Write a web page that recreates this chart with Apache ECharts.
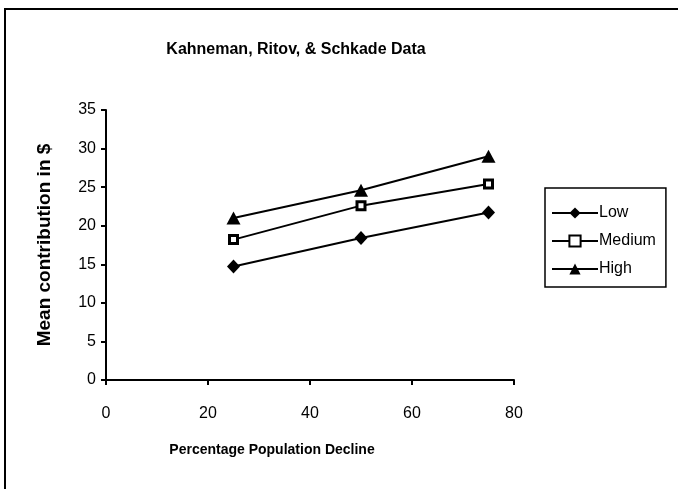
<!DOCTYPE html>
<html>
<head>
<meta charset="utf-8">
<script src="https://cdn.jsdelivr.net/npm/echarts@6/dist/echarts.min.js"></script>
<style>
  html, body { margin: 0; padding: 0; background: #fff; }
  #chart { width: 678px; height: 489px; }
</style>
</head>
<body>
<div id="chart"></div>
<script>
const xValues = [25, 50, 75];
const lowValues = [14.7, 18.4, 21.7];
const mediumValues = [18.2, 22.6, 25.4];
const highValues = [21.0, 24.6, 29.0];
const seriesNames = ["Low", "Medium", "High"];

const font = "'Liberation Sans', Arial, sans-serif";

function pairs(ys) {
  return xValues.map(function (x, i) { return [x, ys[i]]; });
}

const chart = echarts.init(document.getElementById("chart"));
chart.setOption({
  animation: false,
  backgroundColor: "#fff",
  title: {
    text: "Kahneman, Ritov, & Schkade Data",
    left: 291,
    top: 37,
    textAlign: "center",
    textStyle: { fontFamily: font, fontSize: 16, fontWeight: "bold", color: "#000" }
  },
  graphic: [{
    type: "polyline",
    shape: { points: [[5, 489], [5, 9], [678, 9]] },
    style: { fill: "none", stroke: "#000", lineWidth: 2 },
    silent: true
  }],
  legend: {
    orient: "vertical",
    left: 545,
    top: 188,
    padding: [17, 10, 10, 6],
    itemGap: 12,
    itemWidth: 46,
    itemHeight: 14,
    borderColor: "#000",
    borderWidth: 1.5,
    borderRadius: 0,
    data: seriesNames,
    textStyle: { fontFamily: font, fontSize: 16, color: "#000", padding: [0, 0, 0, -4] }
  },
  grid: { left: 106, right: 164, top: 110, bottom: 109 },
  xAxis: {
    type: "value",
    min: 0,
    max: 80,
    interval: 20,
    name: "Percentage Population Decline",
    nameLocation: "middle",
    nameGap: 63,
    nameTextStyle: { fontFamily: font, fontSize: 14, fontWeight: "bold", color: "#000", padding: [0, 76, 0, 0] },
    axisLine: { lineStyle: { color: "#000", width: 2 } },
    axisTick: { show: true, length: 5, inside: false, lineStyle: { color: "#000", width: 2 } },
    axisLabel: { fontFamily: font, fontSize: 16, color: "#000", margin: 26 },
    splitLine: { show: false }
  },
  yAxis: {
    type: "value",
    min: 0,
    max: 35,
    interval: 5,
    name: "Mean contribution in $",
    nameLocation: "middle",
    nameGap: 52,
    nameTextStyle: { fontFamily: font, fontSize: 19, fontWeight: "bold", color: "#000" },
    axisLine: { show: true, lineStyle: { color: "#000", width: 2 } },
    axisTick: { show: true, length: 5, lineStyle: { color: "#000", width: 2 } },
    axisLabel: { fontFamily: font, fontSize: 16, color: "#000", margin: 10 },
    splitLine: { show: false }
  },
  series: [
    {
      name: "Low",
      type: "line",
      data: pairs(lowValues),
      symbol: "diamond",
      symbolSize: [13, 14],
      itemStyle: { color: "#000" },
      lineStyle: { color: "#000", width: 2 }
    },
    {
      name: "Medium",
      type: "line",
      data: pairs(mediumValues),
      symbol: "rect",
      symbolSize: 8,
      itemStyle: { color: "#fff", borderColor: "#000", borderWidth: 3 },
      lineStyle: { color: "#000", width: 2 }
    },
    {
      name: "High",
      type: "line",
      data: pairs(highValues),
      symbol: "triangle",
      symbolSize: [14, 13],
      itemStyle: { color: "#000" },
      lineStyle: { color: "#000", width: 2 }
    }
  ]
});
</script>
</body>
</html>
